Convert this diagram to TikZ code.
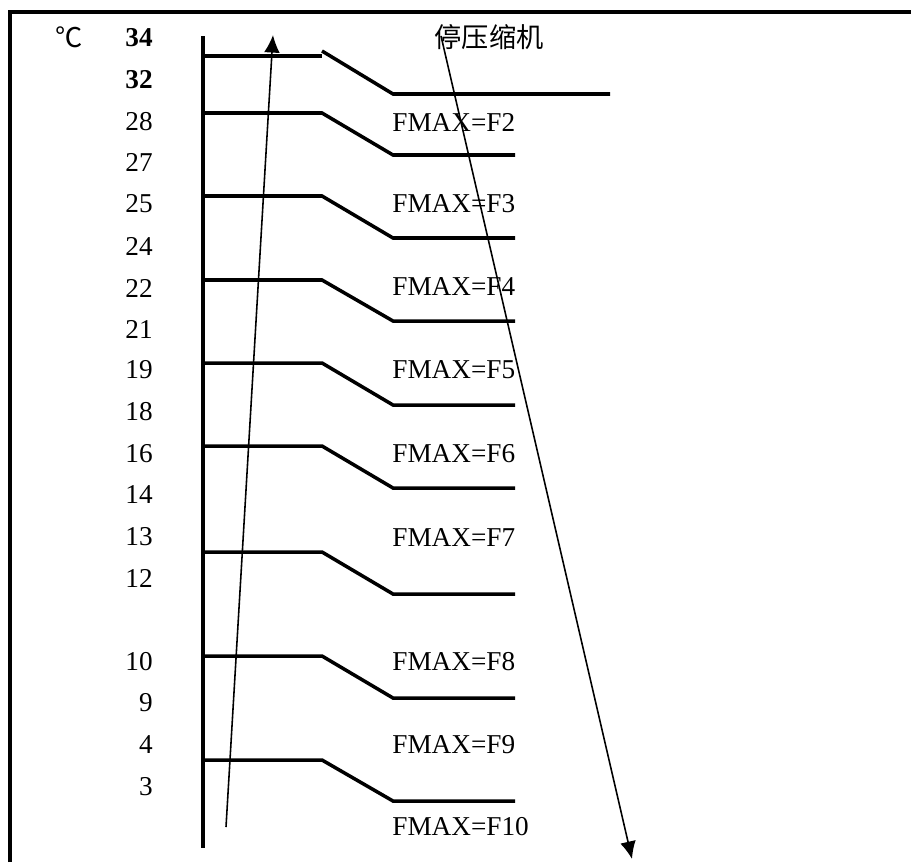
\documentclass[tikz,border=0pt]{standalone}
\usepackage{fontspec}
\setmainfont{Liberation Serif}
\newfontfamily\cjk{Noto Sans CJK SC}
\usetikzlibrary{arrows.meta, positioning}

\begin{document}
\begin{tikzpicture}[x=0.02cm, y=-0.02cm, >={Latex[length=10pt, width=9pt]},
    every node/.style={inner sep=0pt, font=\fontsize{15.5}{18}\selectfont},
    bac/.style={line width=2pt},
    muiten/.style={->, line width=0.9pt}]
    \useasboundingbox (0,0) rectangle (911,862);

    % Khung
    \draw[line width=2.2pt] (10,862) -- (10,12) -- (911,12);

    % Trục nhiệt độ
    \draw[bac] (203,36) -- (203,848);
    \node (donvi) at (69,37) {\cjk ℃};
    \node[anchor=east] (t34) at (153,38) {\textbf{34}};
    \node[anchor=east] (t32) at (153,80) {\textbf{32}};
    \foreach \t/\y in {28/122, 27/162, 25/204, 24/246, 22/288, 21/329, 19/370, 18/412,
                       16/454, 14/495, 13/537, 12/578, 10/662, 9/703, 4/745, 3/787}
        \node[anchor=east] (t\t) at (153,\y) {\t};

    % Các bậc
    \draw[bac] (203,56) -- (322,56);
    \draw[bac] (322,51) -- (393,94) -- (610,94);
    \foreach \ya/\yb in {113/155, 196/238, 280/321, 363/405, 446/488, 552/594, 656/698, 760/801}
        \draw[bac] (203,\ya) -- (322,\ya) -- (393,\yb) -- (515,\yb);

    % Nhãn FMAX
    \foreach \k/\y in {2/122, 3/204, 4/287, 5/370, 6/454, 7/537, 8/662, 9/745, 10/827}
        \node[anchor=west] (f\k) at (392,\y) {FMAX=F\k};
    \node (dung) at (489,37) {\cjk 停压缩机};

    % Mũi tên
    \coordinate (len-a) at (226,827);
    \coordinate (len-b) at (273,35);
    \draw[muiten] (len-a) -- (len-b);
    \coordinate (xuong-a) at (441,36);
    \coordinate (xuong-b) at (632,859);
    \draw[muiten] (xuong-a) -- (xuong-b);
\end{tikzpicture}
\end{document}
